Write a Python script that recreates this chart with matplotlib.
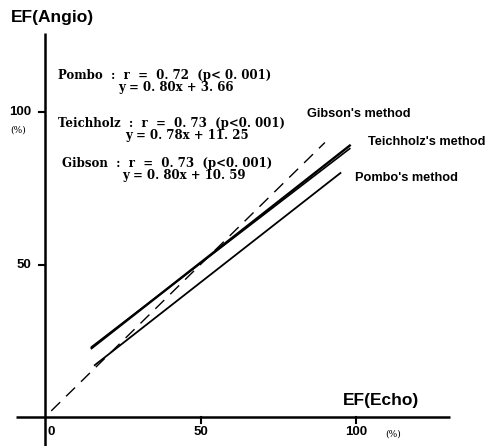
import matplotlib
matplotlib.use('Agg')
import matplotlib.pyplot as plt

# regression lines (EF Echo -> EF Angio, %)
pombo_x = [16, 95]
pombo_y = [17, 80]
teich_x = [15, 98]
teich_y = [23, 88]
gibson_x = [15, 98]
gibson_y = [22.6, 89]
ident_x = [2, 90]
ident_y = [2, 90]

x_ticks = [0, 50, 100]
y_ticks = [50, 100]

stats = [
    ('Pombo  :  r  =  0. 72  (p< 0. 001)', 'y = 0. 80x + 3. 66'),
    ('Teichholz  :  r  =  0. 73  (p<0. 001)', 'y = 0. 78x + 11. 25'),
    ('Gibson  :  r  =  0. 73  (p<0. 001)', 'y = 0. 80x + 10. 59'),
]
methods = ["Gibson's method", "Teichholz's method", "Pombo's method"]

SANS = ['Liberation Sans', 'DejaVu Sans']
SERIF = ['DejaVu Serif']


def at(px, py):
    # picture pixels -> data units
    return (px - 45) / 3.11, (417 - py) / 3.05


fig = plt.figure(figsize=(4.98, 4.46), dpi=100)
ax = fig.add_axes([0, 0, 1, 1])
ax.set_xlim(at(0, 0)[0], at(498, 0)[0])
ax.set_ylim(at(0, 446)[1], at(0, 0)[1])
ax.axis('off')

# axes
ax.plot([at(16, 0)[0], at(450, 0)[0]], [0, 0], color='black', lw=1.8, solid_capstyle='butt')
ax.plot([0, 0], [at(0, 446)[1], at(0, 33)[1]], color='black', lw=1.8, solid_capstyle='butt')
for t in x_ticks[1:]:
    ax.plot([t, t], [0, -2], color='black', lw=1.5)
for t in y_ticks:
    ax.plot([0, -1.8], [t, t], color='black', lw=1.5)

# lines
ax.plot(ident_x, ident_y, color='black', lw=1.0, dashes=(9, 6))
ax.plot(pombo_x, pombo_y, color='black', lw=1.3)
ax.plot(teich_x, teich_y, color='black', lw=1.2)
ax.plot(gibson_x, gibson_y, color='black', lw=1.7)

# tick labels
for t in x_ticks:
    x, y = at(45 + 3.11 * t + (6 if t == 0 else 0), 432)
    ax.text(x, y, str(t), ha='center', va='center', fontsize=9.5, fontweight='bold', family=SANS)
for t in y_ticks:
    x, y = at(31, 417 - 3.05 * t)
    ax.text(x, y, str(t), ha='right', va='center', fontsize=9.5, fontweight='bold', family=SANS)
ax.text(*at(18, 130), '(%)', ha='center', va='center', fontsize=6.5, family=SERIF)
ax.text(*at(393, 434), '(%)', ha='center', va='center', fontsize=6.5, family=SERIF)

# axis titles
ax.text(*at(11, 18), 'EF(Angio)', ha='left', va='center', fontsize=12.5, fontweight='bold', family=SANS)
ax.text(*at(343, 400), 'EF(Echo)', ha='left', va='center', fontsize=12.5, fontweight='bold', family=SANS)

# statistics
stat_pos = [((58, 76), (118, 88)), ((58, 124), (125, 136)), ((62, 164), (122, 176))]
for (line1, line2), (p1, p2) in zip(stats, stat_pos):
    ax.text(*at(*p1), line1, ha='left', va='center', fontsize=8.5, fontweight='bold', family=SERIF)
    ax.text(*at(*p2), line2, ha='left', va='center', fontsize=8.5, fontweight='bold', family=SERIF)

# method labels
method_pos = [(307, 114), (368, 142), (355, 178)]
for name, p in zip(methods, method_pos):
    ax.text(*at(*p), name, ha='left', va='center', fontsize=9.2, fontweight='bold', family=SANS)

fig.savefig('out.png', dpi=100)
